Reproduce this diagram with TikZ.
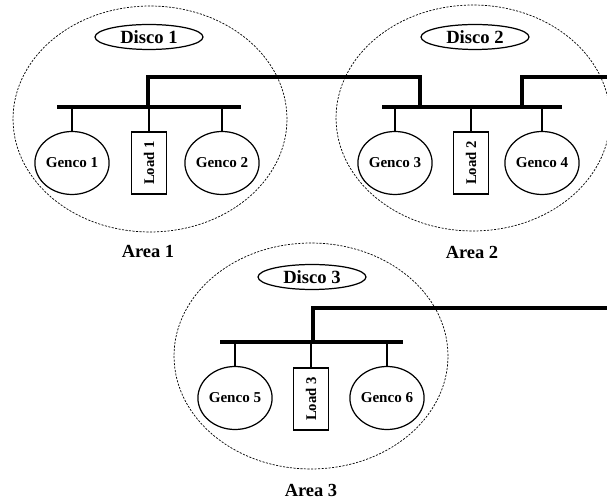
\documentclass[tikz,border=0pt]{standalone}
\usepackage{fontspec}
\setmainfont{Liberation Serif}
\usetikzlibrary{shapes.geometric}

\begin{document}
\begin{tikzpicture}[x=0.02cm,y=-0.02cm,
  area/.style={draw,ellipse,line width=0.4pt,dash pattern=on 1.2pt off 0.8pt,
    minimum width=5.48cm,minimum height=4.52cm,inner sep=0pt},
  disco/.style={draw,ellipse,line width=0.7pt,minimum width=2.16cm,minimum height=0.5cm,
    inner sep=0pt,font=\fontsize{10.6}{12}\selectfont\bfseries},
  genco/.style={draw,ellipse,line width=0.7pt,minimum width=1.3cm,minimum height=1.26cm,
    inner sep=0pt,font=\fontsize{8.6}{10}\selectfont\bfseries},
  load/.style={draw,rectangle,line width=0.7pt,rotate=90,minimum width=1.24cm,
    minimum height=0.71cm,inner sep=0pt,font=\fontsize{8.4}{9}\selectfont\bfseries},
  lbl/.style={font=\fontsize{10.5}{12}\selectfont\bfseries},
  bus/.style={line width=2.2pt},
  tie/.style={line width=1.8pt},
  stub/.style={line width=0.6pt}]
\useasboundingbox (0,0) rectangle (607,502);
%% areas
\node[area] (A1) at (150,119) {};
\node[area] (A2) at (473,118) {};
\node[area] (A3) at (311,356) {};
\node[lbl] (lA1) at (148,252) {Area 1};
\node[lbl] (lA2) at (472,252) {Area 2};
\node[lbl] (lA3) at (311,490) {Area 3};
%% nodes
\node[disco] (D1) at (149,37) {Disco 1};
\node[disco] (D2) at (475,37) {Disco 2};
\node[disco] (D3) at (312,277) {Disco 3};
\node[genco] (G1) at (72,163) {Genco 1};
\node[load] (L1) at (149,163) {Load 1};
\node[genco] (G2) at (222,163) {Genco 2};
\node[genco] (G3) at (395,163) {Genco 3};
\node[load] (L2) at (471,163) {Load 2};
\node[genco] (G4) at (542,163) {Genco 4};
\node[genco] (G5) at (235,398) {Genco 5};
\node[load] (L3) at (311,399) {Load 3};
\node[genco] (G6) at (387,398) {Genco 6};
%% buses
\coordinate (B1w) at (57,107);
\coordinate (B1e) at (241,107);
\coordinate (B2w) at (382,107);
\coordinate (B2e) at (562,107);
\coordinate (B3w) at (220,342);
\coordinate (B3e) at (403,342);
\coordinate (T1a) at (148,107);
\coordinate (T1b) at (148,77);
\coordinate (T2b) at (420,77);
\coordinate (T2a) at (420,107);
\coordinate (T4a) at (522,107);
\coordinate (T4b) at (522,77);
\coordinate (T4c) at (607,77);
\coordinate (T3a) at (313,342);
\coordinate (T3b) at (313,308);
\coordinate (T3c) at (607,308);
%%% edges
\draw[bus] (B1w) -- (B1e);
\draw[bus] (B2w) -- (B2e);
\draw[bus] (B3w) -- (B3e);
\draw[tie] (T1a) -- (T1b) -- (T2b) -- (T2a);
\draw[tie] (T4a) -- (T4b) -- (T4c);
\draw[tie] (T3a) -- (T3b) -- (T3c);
\draw[stub] (G1.north) -- (G1.north |- B1w);
\draw[stub] (L1.east) -- (L1.east |- B1w);
\draw[stub] (G2.north) -- (G2.north |- B1w);
\draw[stub] (G3.north) -- (G3.north |- B2w);
\draw[stub] (L2.east) -- (L2.east |- B2w);
\draw[stub] (G4.north) -- (G4.north |- B2w);
\draw[stub] (G5.north) -- (G5.north |- B3w);
\draw[stub] (L3.east) -- (L3.east |- B3w);
\draw[stub] (G6.north) -- (G6.north |- B3w);
\end{tikzpicture}
\end{document}
